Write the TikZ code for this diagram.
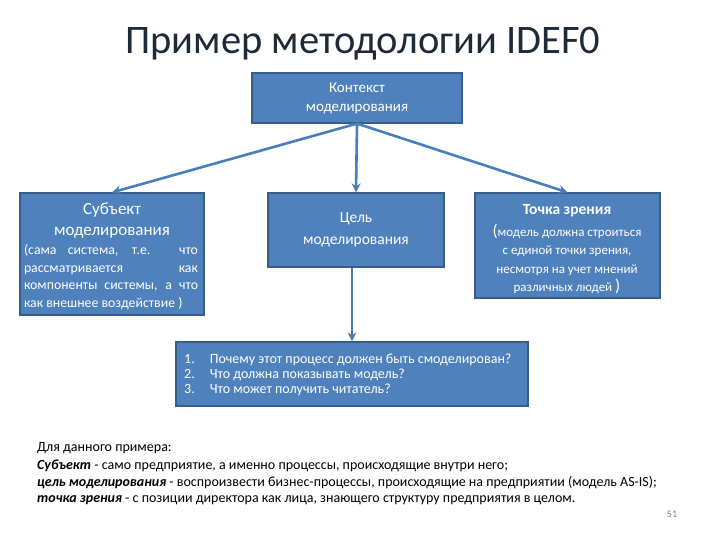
\documentclass[tikz,border=0pt]{standalone}
\usepackage{fontspec}
\setmainfont{Carlito}
\usetikzlibrary{arrows.meta}
\definecolor{boxfill}{HTML}{4F81BD}
\definecolor{boxline}{HTML}{385D8A}
\definecolor{arrowcol}{HTML}{4A7EBB}
\definecolor{titlecol}{HTML}{1F2A38}
\tikzset{
  bluebox/.style={draw=boxline, line width=1.2pt, fill=boxfill, inner sep=0pt},
  wtext/.style={text=white, inner sep=0pt, align=center},
  conn/.style={draw=arrowcol, line width=2.6pt, -{Stealth[length=9pt,width=9pt]}},
  plain/.style={inner sep=0pt, anchor=west, text=black, font=\fontsize{14}{16}\selectfont}
}
\begin{document}
\begin{tikzpicture}[x=1pt,y=-1pt]
\useasboundingbox (0,0) rectangle (720,540);
\fill[white] (0,0) rectangle (720,540);
% title
\node[text=titlecol, inner sep=0pt, font=\fontsize{40.5}{44}\selectfont] (title) at (363,44) {Пример методологии IDEF0};
% boxes
\node[bluebox, minimum width=210pt, minimum height=50pt] (ctx) at (357,98) {};
\node[bluebox, minimum width=184pt, minimum height=122pt] (subj) at (112,254) {};
\node[bluebox, minimum width=176pt, minimum height=74pt] (goal) at (356,230) {};
\node[bluebox, minimum width=185pt, minimum height=105pt] (view) at (567.5,245.5) {};
\node[bluebox, minimum width=352pt, minimum height=64pt] (quest) at (352,374) {};
% texts
\node[wtext, font=\fontsize{15}{19}\selectfont] (ctxt) at (ctx.center) {Контекст\\моделирования};
\node[wtext, font=\fontsize{15.5}{22}\selectfont] (goalt) at (goal.center) {Цель\\моделирования};
\node[wtext, font=\fontsize{17}{21}\selectfont] (subjt) at (112,221) {Субъект\\моделирования};
\node[wtext, text width=174pt, align=justify, font=\fontsize{13.8}{17.7}\selectfont] (subjb) at (111,277) {(сама система, т.е. что\linebreak рассматривается как\linebreak компоненты системы, а что\linebreak как внешнее воздействие )};
\node[wtext, font=\fontsize{15.5}{19}\selectfont\bfseries] (viewt) at (567,211) {Точка зрения};
\node[wtext, font=\fontsize{13}{18.5}\selectfont] (viewb) at (567,259) {{\fontsize{17}{18}\selectfont(}модель должна строиться\\с единой точки зрения,\\несмотря на учет мнений\\различных людей {\fontsize{17}{18}\selectfont)}};
\node[wtext, align=left, anchor=west, font=\fontsize{14}{17}\selectfont] (questt) at (184,375) {%
\begin{tabular}{@{}l@{\hspace{15pt}}l@{}}
1. & Почему этот процесс должен быть смоделирован?\\[-2pt]
2. & Что должна показывать модель?\\[-2pt]
3. & Что может получить читатель?
\end{tabular}};
% connectors
\draw[conn] (ctx.south) -- (subj.north);
\draw[conn] (ctx.south) -- (view.north);
\draw[conn] (ctx.south) -- (goal.north);
\draw[conn] (goal.south -| quest.north) -- (quest.north);
% bottom text
\node[plain] (l1) at (37,448) {Для данного примера:};
\node[plain] (l2) at (37,465.5) {\textbf{\textit{Субъект}} - само предприятие, а именно процессы, происходящие внутри него;};
\node[plain] (l3) at (37,483) {\textbf{\textit{цель моделирования}} - воспроизвести бизнес-процессы, происходящие на предприятии (модель AS-IS);};
\node[plain] (l4) at (37,500) {\textbf{\textit{точка зрения}} - с позиции директора как лица, знающего структуру предприятия в целом.};
\node[inner sep=0pt, text=gray, font=\fontsize{10}{12}\selectfont] (pg) at (672,514) {51};
\end{tikzpicture}
\end{document}
